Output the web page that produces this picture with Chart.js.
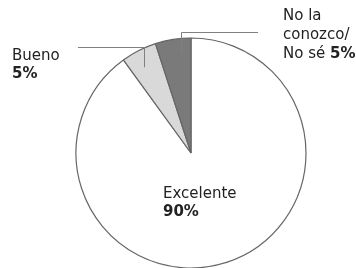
<!DOCTYPE html>
<html>
<head>
<meta charset="utf-8">
<script src="https://cdn.jsdelivr.net/npm/chart.js@4/dist/chart.umd.min.js"></script>
<style>
  html, body { margin: 0; padding: 0; background: #fff; }
  #wrap { width: 356px; height: 268px; }
</style>
</head>
<body>
<div id="wrap"><canvas id="pieChart" width="356" height="268"></canvas></div>
<script>
// data
const labels = ["Excelente", "Bueno", "No la conozco/No sé"];
const values = [90, 5, 5];
const sliceColors = ["#ffffff", "#d9d9d9", "#7a7a7a"];

// text of the callouts (name lines, then the bold percentage)
const calloutLines = [
    { lines: ["Excelente"], pct: "90%", x: 163, y: 198, sameLine: false },
    { lines: ["Bueno"], pct: "5%", x: 12, y: 60, sameLine: false },
    { lines: ["No la", "conozco/", "No sé "], pct: "5%", x: 283, y: 20, sameLine: true }
];

// draws the labels and the two leader lines
const calloutPlugin = {
    id: "callouts",
    afterDraw(chart) {
        const ctx = chart.ctx;
        const arcs = chart.getDatasetMeta(0).data;
        const regular = "15px 'DejaVu Sans'";
        const bold = "bold 15px 'DejaVu Sans'";
        const lineH = 19;

        ctx.save();
        ctx.fillStyle = "#222";
        ctx.textBaseline = "alphabetic";
        ctx.textAlign = "left";

        calloutLines.forEach(c => {
            let y = c.y;
            c.lines.forEach((t, i) => {
                ctx.font = regular;
                ctx.fillText(t, c.x, y);
                if (c.sameLine && i === c.lines.length - 1) {
                    let w = ctx.measureText(t).width;
                    ctx.font = bold;
                    ctx.fillText(c.pct, c.x + w, y);
                }
                y += lineH;
            });
            if (!c.sameLine) {
                ctx.font = bold;
                ctx.fillText(c.pct, c.x, c.y + 18);
            }
        });

        // leader lines from inside the small slices
        ctx.strokeStyle = "#808080";
        ctx.lineWidth = 1;
        const leaders = [
            { idx: 1, t: 0.41, frac: 0.85, lineY: -106, endX: 78 },
            { idx: 2, t: 0.68, frac: 0.88, lineY: -121, endX: 258 }
        ];
        leaders.forEach(l => {
            const a = arcs[l.idx];
            const p = a.getProps(["x", "y", "startAngle", "endAngle", "outerRadius"], true);
            const ang = p.startAngle + (p.endAngle - p.startAngle) * l.t;
            const px = Math.round(p.x + Math.cos(ang) * p.outerRadius * l.frac) + 0.5;
            const py = p.y + Math.sin(ang) * p.outerRadius * l.frac;
            const hy = Math.round(p.y + l.lineY) + 0.5;
            ctx.beginPath();
            ctx.moveTo(px, py);
            ctx.lineTo(px, hy);
            ctx.lineTo(l.endX, hy);
            ctx.stroke();
        });
        ctx.restore();
    }
};

let canvasElement = document.getElementById("pieChart");
let drawingArea = canvasElement.getContext("2d");

let pieChart = new Chart(drawingArea, {
    type: "pie",
    data: {
        labels: labels,
        datasets: [{
            data: values,
            backgroundColor: sliceColors,
            borderColor: "#666",
            borderWidth: 1.2,
            radius: 115
        }]
    },
    options: {
        responsive: false,
        animation: false,
        layout: { padding: { left: 26, right: 0, top: 38, bottom: 0 } },
        plugins: {
            legend: { display: false },
            tooltip: { enabled: false }
        }
    },
    plugins: [calloutPlugin]
});
</script>
</body>
</html>
